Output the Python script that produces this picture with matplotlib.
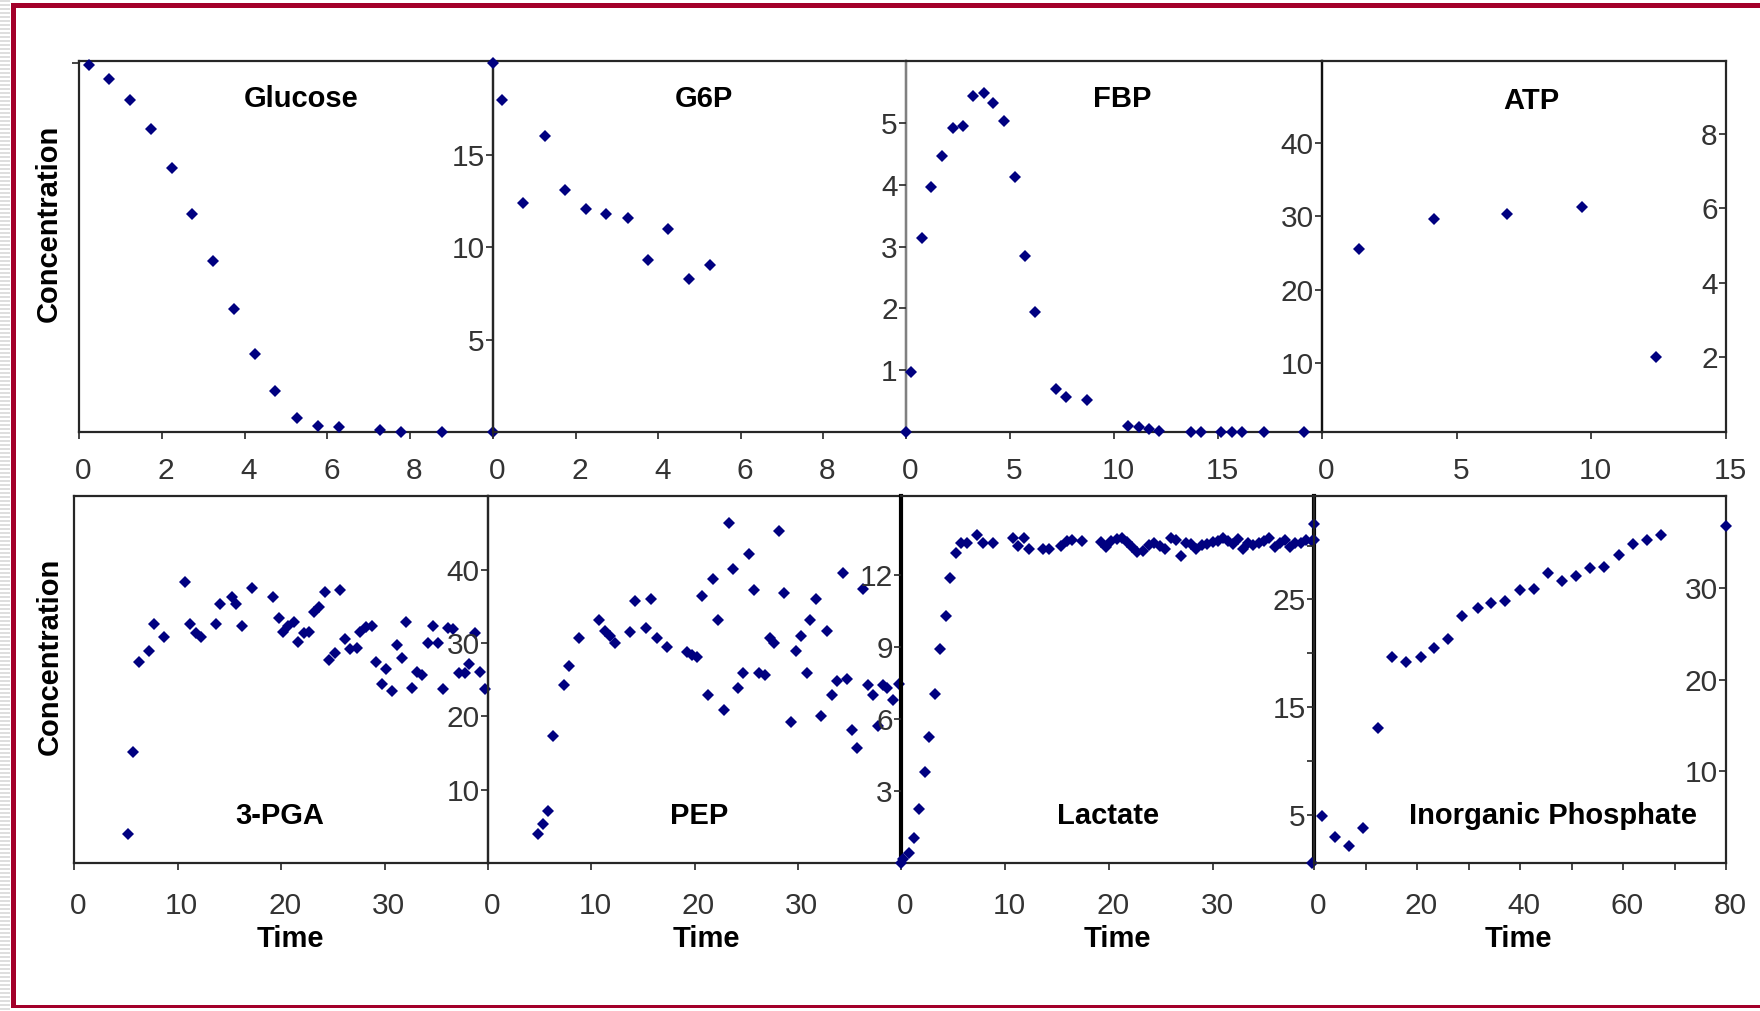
import matplotlib
matplotlib.use("Agg")
import matplotlib.pyplot as plt
import matplotlib.transforms as mtrans
from matplotlib.patches import Rectangle

plt.rcParams['font.family'] = ['Liberation Sans', 'DejaVu Sans']

# ---------------- data ----------------
glc_t = [0.24, 0.73, 1.24, 1.73, 2.24, 2.73, 3.24, 3.74, 4.24, 4.73, 5.27, 5.78, 6.28, 7.27, 7.77, 8.77, 10.0]
glc_v = [19.9, 19.1, 18.0, 16.4, 14.3, 11.8, 9.25, 6.65, 4.2, 2.2, 0.76, 0.34, 0.27, 0.09, 0.0, 0.0, 0.0]

g6p_t = [0.0, 0.23, 0.72, 1.26, 1.75, 2.24, 2.73, 3.27, 3.76, 4.24, 4.74, 5.26]
g6p_v = [20.0, 18.0, 12.43, 16.04, 13.1, 12.09, 11.83, 11.58, 9.31, 10.99, 8.28, 9.04]

fbp_t = [0.0, 0.22, 0.75, 1.2, 1.73, 2.24, 2.72, 3.23, 3.74, 4.19, 4.7, 5.23, 5.7, 6.22, 7.19, 7.7, 8.68,
         10.68, 11.22, 11.67, 12.18, 13.7, 14.19, 15.16, 15.69, 16.17, 17.21, 19.13]
fbp_v = [0.0, 0.97, 3.14, 3.97, 4.47, 4.92, 4.95, 5.44, 5.48, 5.32, 5.03, 4.12, 2.85, 1.94, 0.69, 0.56, 0.52,
         0.09, 0.08, 0.05, 0.02, 0.0, 0.0, 0.0, 0.0, 0.0, 0.0, 0.0]

atp_t = [1.38, 4.15, 6.86, 9.65, 12.41]
atp_v = [4.92, 5.7, 5.85, 6.04, 2.0]

pga_t = [5.17, 5.71, 6.29, 7.23, 7.74, 8.7, 10.76, 11.18, 11.75, 12.27, 13.75, 14.13, 15.25, 15.67, 16.25,
         17.21, 19.2, 19.78, 20.17, 20.65, 21.23, 21.68, 22.19, 22.74, 23.15, 23.7, 24.25, 24.66, 25.21,
         25.69, 26.17, 26.69, 27.3, 27.65, 28.2, 28.77, 29.16, 29.74, 30.18, 30.7, 31.18, 31.73, 32.11,
         32.69, 33.17, 33.65, 34.23, 34.68, 35.19, 35.65, 36.16, 36.61, 37.19, 37.76, 38.15, 38.73, 39.18, 39.69]
pga_v = [3.99, 15.2, 27.4, 29.0, 32.6, 30.9, 38.4, 32.6, 31.4, 30.9, 32.6, 35.3, 36.3, 35.4, 32.4,
         37.6, 36.3, 33.4, 31.5, 32.4, 32.9, 30.2, 31.4, 31.6, 34.3, 35.0, 37.0, 27.7, 28.7,
         37.2, 30.6, 29.2, 29.4, 31.5, 32.2, 32.4, 27.5, 24.4, 26.5, 23.5, 29.8, 28.0, 32.9,
         23.9, 26.1, 25.7, 30.0, 32.3, 30.1, 23.7, 32.1, 31.96, 25.9, 25.9, 27.1, 31.4, 26.1, 23.7]

pep_t = [4.81, 5.29, 5.77, 6.29, 7.32, 7.81, 8.84, 10.77, 11.35, 11.84, 12.32, 13.77, 14.26, 15.32, 15.81,
         16.35, 17.32, 19.26, 19.74, 20.23, 20.71, 21.26, 21.77, 22.26, 22.81, 23.35, 23.77, 24.26, 24.74,
         25.29, 25.77, 26.26, 26.84, 27.32, 27.71, 28.23, 28.71, 29.32, 29.84, 30.32, 30.87, 31.19, 31.77,
         32.23, 32.81, 33.29, 33.77, 34.35, 34.74, 35.29, 35.77, 36.29, 36.77, 37.32, 37.81, 38.23, 38.68,
         39.26, 39.81]
pep_v = [3.9, 5.28, 7.06, 17.4, 24.3, 26.9, 30.7, 33.2, 31.7, 31.0, 30.1, 31.5, 35.8, 32.1, 36.0,
         30.7, 29.5, 28.8, 28.4, 28.1, 36.5, 22.9, 38.8, 33.2, 20.9, 46.4, 40.1, 23.9, 25.9,
         42.2, 37.2, 26.0, 25.7, 30.7, 30.1, 45.3, 36.9, 19.3, 28.9, 31.0, 25.9, 33.2, 36.0,
         20.0, 31.7, 22.9, 24.9, 39.6, 25.1, 18.1, 15.7, 37.4, 24.3, 23.0, 18.7, 24.3, 23.9,
         22.2, 24.5]

lac_t = [0.0, 0.23, 0.74, 1.29, 1.71, 2.26, 2.68, 3.3, 3.72, 4.3, 4.69, 5.27, 5.75, 6.3, 7.27, 7.86, 8.83,
         10.77, 11.22, 11.8, 12.29, 13.68, 14.23, 15.36, 15.91, 16.39, 17.39, 19.24, 19.72, 20.21, 20.76,
         21.24, 21.73, 22.21, 22.7, 23.28, 23.83, 24.35, 24.9, 25.38, 25.96, 26.45, 26.93, 27.38, 27.9,
         28.39, 28.94, 29.42, 29.97, 30.46, 30.94, 31.43, 31.91, 32.4, 32.88, 33.4, 33.88, 34.37, 34.92,
         35.4, 35.95, 36.47, 36.92, 37.41, 37.92, 38.41, 38.96, 39.51, 39.7, 39.7, 39.5]
lac_v = [0.0, 0.16, 0.41, 1.03, 2.26, 3.8, 5.26, 7.05, 8.91, 10.31, 11.88, 12.94, 13.32, 13.35, 13.67, 13.35, 13.35,
         13.53, 13.21, 13.56, 13.11, 13.11, 13.11, 13.21, 13.42, 13.46, 13.43, 13.39, 13.18, 13.42, 13.49,
         13.56, 13.39, 13.18, 12.97, 13.0, 13.25, 13.32, 13.21, 13.11, 13.56, 13.46, 12.8, 13.36, 13.29,
         13.11, 13.25, 13.28, 13.39, 13.42, 13.53, 13.42, 13.29, 13.49, 13.11, 13.32, 13.25, 13.32, 13.43,
         13.56, 13.18, 13.32, 13.46, 13.18, 13.32, 13.36, 13.46, 13.43, 14.12, 13.46, 0.0]

pi_t = [1.49, 4.08, 6.8, 9.46, 12.37, 15.09, 17.8, 20.79, 23.38, 26.1, 28.82, 31.8, 34.39, 37.11, 40.03,
        42.75, 45.34, 48.12, 50.91, 53.63, 56.35, 59.26, 61.92, 64.64, 67.36, 80.05]
pi_v = [5.1, 2.83, 1.83, 3.82, 14.75, 22.46, 21.98, 22.46, 23.49, 24.48, 26.94, 27.89, 28.4, 28.59, 29.8,
        29.9, 31.74, 30.83, 31.34, 32.18, 32.29, 33.65, 34.83, 35.3, 35.85, 36.84]

titles_top = ["Glucose", "G6P", "FBP", "ATP"]
titles_bot = ["3-PGA", "PEP", "Lactate", "Inorganic Phosphate"]

# ---------------- layout (pixels) ----------------
W, H = 1760, 1011
fig = plt.figure(figsize=(W / 100, H / 100), dpi=100)
fig.patch.set_facecolor('white')

TOP = (61, 432)
BOT = (496, 863)
cols_top = [79, 493, 906, 1322, 1726]
cols_bot = [74, 488, 901, 1314, 1726]

MK = dict(marker='D', color='#000080', ms=6.3, ls='none', clip_on=False, mew=0, zorder=6)
TICKC = '#333333'
TFS = 21.5
XOFF = mtrans.ScaledTranslation(4 / 100, 0, fig.dpi_scale_trans)


def fbox(x0, y0, x1, y1):
    return [x0 / W, 1 - y1 / H, (x1 - x0) / W, (y1 - y0) / H]


def ftext(x, y, s, **kw):
    fig.text(x / W, 1 - y / H, s, **kw)


def panel(x0, x1, row, xlim, xticks, xlabels, ylim, minor_x=None, spine_color='#262626', pad=13):
    ax = fig.add_axes(fbox(x0, row[0], x1, row[1]))
    ax.patch.set_visible(False)
    ax.set_xlim(xlim)
    ax.set_ylim(ylim)
    ax.set_xticks(xticks, xlabels)
    if minor_x is not None:
        ax.set_xticks(minor_x, minor=True)
    ax.set_yticks([])
    ax.tick_params(axis='x', which='both', direction='out', length=5, width=1.2,
                   color='#262626', labelsize=TFS, labelcolor=TICKC, pad=pad)
    for lab in ax.get_xticklabels():
        lab.set_transform(lab.get_transform() + XOFF)
    for s in ax.spines.values():
        s.set_color(spine_color)
        s.set_linewidth(1.6)
    return ax


def yscale(xpix, row, ylim, ticks, labels, minor=None):
    ax = fig.add_axes(fbox(xpix, row[0], xpix + 1, row[1]), zorder=5)
    ax.patch.set_visible(False)
    for s in ax.spines.values():
        s.set_visible(False)
    ax.set_xticks([])
    ax.set_ylim(ylim)
    ax.set_yticks(ticks, labels)
    if minor is not None:
        ax.set_yticks(minor, minor=True)
    ax.tick_params(axis='y', which='both', direction='out', length=5, width=1.2,
                   color='#262626', labelsize=TFS, labelcolor=TICKC, pad=1)
    return ax


# ---- top row ----
ax = panel(cols_top[0], cols_top[1], TOP, (0, 10), [0, 2, 4, 6, 8], ['0', '2', '4', '6', '8'], (0, 20.1))
ax.plot(glc_t, glc_v, **MK)
yscale(cols_top[0], TOP, (0, 20.1), [20], [''])

ax = panel(cols_top[1], cols_top[2], TOP, (0, 10), [0, 2, 4, 6, 8], ['0', '2', '4', '6', '8'], (0, 20.1))
ax.plot(g6p_t, g6p_v, **MK)
yscale(cols_top[1], TOP, (0, 20.1), [5, 10, 15], ['5', '10', '15'])

ax = panel(cols_top[2], cols_top[3], TOP, (0, 20), [0, 5, 10, 15], ['0', '5', '10', '15'], (0, 6.0))
ax.spines['left'].set_color('#808080')
ax.plot(fbp_t, fbp_v, **MK)
yscale(cols_top[2], TOP, (0, 6.0), [1, 2, 3, 4, 5], ['1', '2', '3', '4', '5'])

ax = panel(cols_top[3], cols_top[4], TOP, (0, 15), [0, 5, 10, 15], ['0', '5', '10', '15'], (0, 9.95))
ax.spines['left'].set_color('#111111')
ax.plot(atp_t, atp_v, **MK)
yscale(cols_top[3], TOP, (0.6, 51.2), [10, 20, 30, 40], ['10', '20', '30', '40'])
yscale(cols_top[4], TOP, (0, 9.95), [2, 4, 6, 8], ['2', '4', '6', '8'])

# ---- bottom row ----
ax = panel(cols_bot[0], cols_bot[1], BOT, (0, 40), [0, 10, 20, 30], ['0', '10', '20', '30'], (0, 50.1), pad=16)
ax.plot(pga_t, pga_v, **MK)

ax = panel(cols_bot[1], cols_bot[2], BOT, (0, 40), [0, 10, 20, 30], ['0', '10', '20', '30'], (0, 50.1), pad=16)
ax.plot(pep_t, pep_v, **MK)
yscale(cols_bot[1], BOT, (0, 50.1), [10, 20, 30, 40], ['10', '20', '30', '40'])

ax = panel(cols_bot[2], cols_bot[3], BOT, (0, 39.7), [0, 10, 20, 30], ['0', '10', '20', '30'], (0, 15.3), pad=16)
ax.spines['left'].set_linewidth(3)
ax.spines['left'].set_color('black')
ax.spines['right'].set_linewidth(3)
ax.spines['right'].set_color('black')
ax.plot(lac_t, lac_v, **MK)
yscale(cols_bot[2], BOT, (0, 15.3), [3, 6, 9, 12], ['3', '6', '9', '12'])

ax = panel(cols_bot[3], cols_bot[4], BOT, (0, 80), [0, 20, 40, 60, 80], ['0', '20', '40', '60', '80'], (0, 40.1),
           minor_x=[10, 30, 50, 70], pad=16)
ax.plot(pi_t, pi_v, **MK)
yscale(cols_bot[3], BOT, (0.5, 34.6), [5, 15, 25], ['5', '15', '25'], minor=[10, 20, 30])
yscale(cols_bot[4], BOT, (0, 40.1), [10, 20, 30], ['10', '20', '30'])

# ---- texts ----
TK = dict(ha='center', va='center', fontsize=21, fontweight='bold', color='black')
ftext(301, 99, titles_top[0], **TK)
ftext(704, 99, titles_top[1], **TK)
ftext(1122, 99, titles_top[2], **TK)
ftext(1531, 101, titles_top[3], **TK)
ftext(280, 816, titles_bot[0], **TK)
ftext(699, 816, titles_bot[1], **TK)
ftext(1108, 816, titles_bot[2], **TK)
ftext(1553, 816, titles_bot[3], **TK)

for xc in (290, 706, 1117, 1518):
    ftext(xc, 939, "Time", **TK)
ftext(49, 223, "Concentration", rotation=90, ha='center', va='center', fontsize=21, fontweight='bold')
ftext(50, 656, "Concentration", rotation=90, ha='center', va='center', fontsize=21, fontweight='bold')

# ---- decorative frame ----
RED = '#A3002A'
for yy in range(0, H, 4):
    fig.add_artist(Rectangle((0, 1 - (yy + 2) / H), 10 / W, 2 / H, transform=fig.transFigure,
                             facecolor='#dedede', edgecolor='none'))
fig.add_artist(Rectangle((11 / W, 1 - 1008 / H), 5 / W, 1005 / H, transform=fig.transFigure,
                         facecolor=RED, edgecolor='none'))
fig.add_artist(Rectangle((11 / W, 1 - 8 / H), 1 - 11 / W, 5 / H, transform=fig.transFigure,
                         facecolor=RED, edgecolor='none'))
fig.add_artist(Rectangle((11 / W, 1 - 1008 / H), 1 - 11 / W, 3 / H, transform=fig.transFigure,
                         facecolor=RED, edgecolor='none'))

fig.savefig("out.png", dpi=100, facecolor='white')
